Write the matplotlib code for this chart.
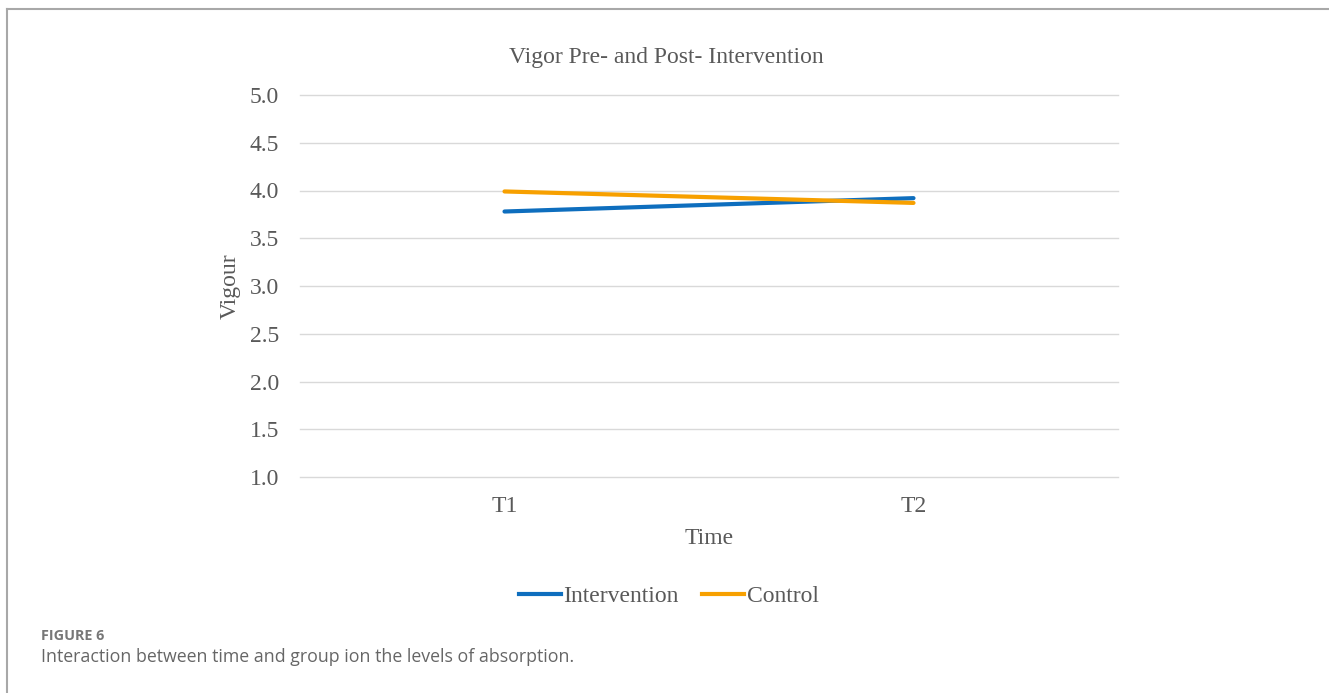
import matplotlib
matplotlib.use("Agg")
import matplotlib.pyplot as plt
from matplotlib.lines import Line2D

# Chart data
time_points = ["T1", "T2"]
intervention = [3.78, 3.92]
control = [3.99, 3.87]
y_ticks = [1.0, 1.5, 2.0, 2.5, 3.0, 3.5, 4.0, 4.5, 5.0]

blue = "#0E6EBE"
orange = "#F7A000"
text_gray = "#595959"
grid_gray = "#D9D9D9"
serif = ["Liberation Serif", "DejaVu Serif"]


def main():
    W, H = 1329, 693
    fig = plt.figure(figsize=(W / 100, H / 100), dpi=100)

    # Axes placed to match the reference pixel box
    ax = fig.add_axes([300 / W, 1 - 477 / H, 818 / W, 382 / H])
    x = list(range(len(time_points)))
    ax.plot(x, intervention, color=blue, lw=3.0, solid_capstyle="round", zorder=3)
    ax.plot(x, control, color=orange, lw=3.0, solid_capstyle="round", zorder=3)

    ax.set_xlim(-0.5, len(time_points) - 0.5)
    ax.set_ylim(1.0, 5.0)
    ax.set_yticks(y_ticks)
    ax.set_yticklabels([f"{v:.1f}" for v in y_ticks])
    ax.set_xticks(x)
    ax.set_xticklabels(time_points)
    ax.grid(axis="y", color=grid_gray, lw=1.0)
    for gl in ax.get_ygridlines():
        gl.set_clip_on(False)
    ax.set_axisbelow(True)
    for side in ["top", "right", "left", "bottom"]:
        ax.spines[side].set_visible(False)
    ax.tick_params(axis="both", length=0, labelsize=17, labelcolor=text_gray)
    ax.tick_params(axis="y", pad=15)
    ax.tick_params(axis="x", pad=14)
    for lab in ax.get_xticklabels() + ax.get_yticklabels():
        lab.set_fontfamily(serif)

    # Titles and axis labels
    fig.text(666 / W, 1 - 57 / H, "Vigor Pre- and Post- Intervention", ha="center", va="center",
             fontsize=17, color=text_gray, family=serif)
    fig.text(230 / W, 1 - 286 / H, "Vigour", ha="center", va="center", rotation=90,
             fontsize=17, color=text_gray, family=serif)
    fig.text(709 / W, 1 - 539 / H, "Time", ha="center", va="center",
             fontsize=17, color=text_gray, family=serif)

    # Legend below the chart
    handles = [Line2D([], [], color=blue, lw=3.0), Line2D([], [], color=orange, lw=3.0)]
    fig.legend(handles, ["Intervention", "Control"], loc="center", bbox_to_anchor=(669 / W, 1 - 596 / H),
               ncol=2, frameon=False, handlelength=1.75, handletextpad=0.12, columnspacing=1.0,
               prop={"family": serif, "size": 17}, labelcolor=text_gray)

    # Journal frame (top and left) and caption
    fig.add_artist(Line2D([7 / W, 7 / W], [0, 1 - 9 / H], transform=fig.transFigure, color="#A8A8A8", lw=1.5))
    fig.add_artist(Line2D([7 / W, 1], [1 - 9 / H, 1 - 9 / H], transform=fig.transFigure, color="#A8A8A8", lw=1.5))
    fig.text(41 / W, 1 - 640 / H, "FIGURE 6", ha="left", va="baseline", fontsize=10.4,
             fontweight="bold", color="#777777", family="Open Sans")
    fig.text(41 / W, 1 - 662 / H, "Interaction between time and group ion the levels of absorption.",
             ha="left", va="baseline", fontsize=12.8, color="#666666", family="Open Sans")

    fig.savefig("out.png", dpi=100)


if __name__ == "__main__":
    main()
